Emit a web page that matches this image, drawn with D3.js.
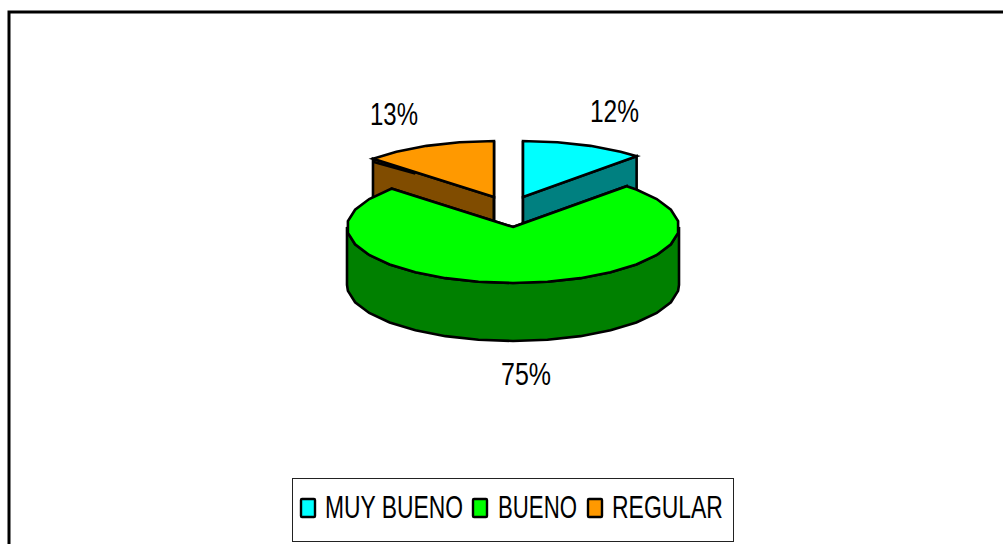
<!DOCTYPE html>
<html><head><meta charset="utf-8">
<style>html,body{margin:0;padding:0;background:#fff;overflow:hidden}svg{display:block}
text{font-family:"Liberation Sans",Arial,sans-serif;fill:#000}</style>
<script src="https://cdn.jsdelivr.net/npm/d3@7/dist/d3.min.js"></script>
</head><body><script>
const categories = ["MUY BUENO", "BUENO", "REGULAR"];
const values = [12, 75, 13];
const pctLabels = ["12%", "75%", "13%"];
const topColors = ["#00FFFF", "#00FF00", "#FF9900"];
const sideColors = ["#008080", "#008000", "#804C00"];

const W = 1003, H = 544;
const svg = d3.select("body").append("svg").attr("width", W).attr("height", H);
svg.append("rect").attr("x", 9).attr("y", 12).attr("width", 1200).attr("height", 1000)
  .attr("fill", "#fff").attr("stroke", "#000").attr("stroke-width", 3);

const rx = 166, ry = 56, depth = 58, seg = 12 * Math.PI / 180;
const centers = [{x: 523, y: 197}, {x: 513, y: 227}, {x: 494, y: 197}];
const pie = d3.pie().sort(null)(values);
const line = d3.line();
const pt = (c, a, dy = 0) => [c.x + rx * Math.sin(a), c.y - ry * Math.cos(a) + dy];
function arcPts(c, a0, a1, dy = 0) {
  const r = [pt(c, a0, dy)];
  for (let k = Math.ceil(a0 / seg + 1e-6); k * seg < a1 - 1e-6; k++) r.push(pt(c, k * seg, dy));
  r.push(pt(c, a1, dy));
  return r;
}
const g = svg.append("g").attr("stroke", "#000").attr("stroke-width", 2.6).attr("stroke-linejoin", "miter");
const poly = (pts, fill) => g.append("path").attr("d", line(pts) + "Z").attr("fill", fill);

function drawSlice(i) {
  const d = pie[i], c = centers[i], a0 = d.startAngle, a1 = d.endAngle;
  [a0, a1].forEach(a => {
    const p = pt(c, a);
    poly([[c.x, c.y], p, [p[0], p[1] + depth], [c.x, c.y + depth]], sideColors[i]);
  });
  const f0 = Math.max(a0, Math.PI / 2), f1 = Math.min(a1, 3 * Math.PI / 2);
  if (f0 < f1) {
    poly(arcPts(c, f0, f1).concat(arcPts(c, f0, f1, depth).reverse()), sideColors[i]);
  }
  poly([[c.x, c.y]].concat(arcPts(c, a0, a1)), topColors[i]);
  if (i === 2) {
    const p = pt(c, a0);
    g.append("path").attr("fill", "none")
      .attr("d", line([[p[0], p[1] + 3], [p[0] + 0.35 * (c.x - p[0]), p[1] + 0.35 * (c.y - p[1]) + 1.5]]));
  }
}
[2, 0, 1].forEach(drawSlice);

// condensed text: horizontally scaled to the width seen in the picture
function squeezed(t, x, y, w) {
  const el = svg.append("text").text(t).attr("font-size", 31);
  const k = w / el.node().getComputedTextLength();
  el.attr("transform", `translate(${x},${y}) scale(${k},1)`);
}
const labelPos = [{x: 590, y: 122, w: 49}, {x: 501, y: 385, w: 50}, {x: 370, y: 125, w: 48}];
pctLabels.forEach((t, i) => squeezed(t, labelPos[i].x, labelPos[i].y, labelPos[i].w));

svg.append("rect").attr("x", 292.5).attr("y", 478.5).attr("width", 441).attr("height", 63)
  .attr("fill", "#fff").attr("stroke", "#222").attr("stroke-width", 1);
const legendPos = [{sx: 301, tx: 325, w: 138}, {sx: 473, tx: 498, w: 79}, {sx: 588, tx: 612, w: 111}];
categories.forEach((t, i) => {
  svg.append("rect").attr("x", legendPos[i].sx).attr("y", 499).attr("width", 14).attr("height", 18)
    .attr("fill", topColors[i]).attr("stroke", "#000").attr("stroke-width", 2.4).attr("rx", 1);
  squeezed(t, legendPos[i].tx, 518, legendPos[i].w);
});
</script></body></html>
